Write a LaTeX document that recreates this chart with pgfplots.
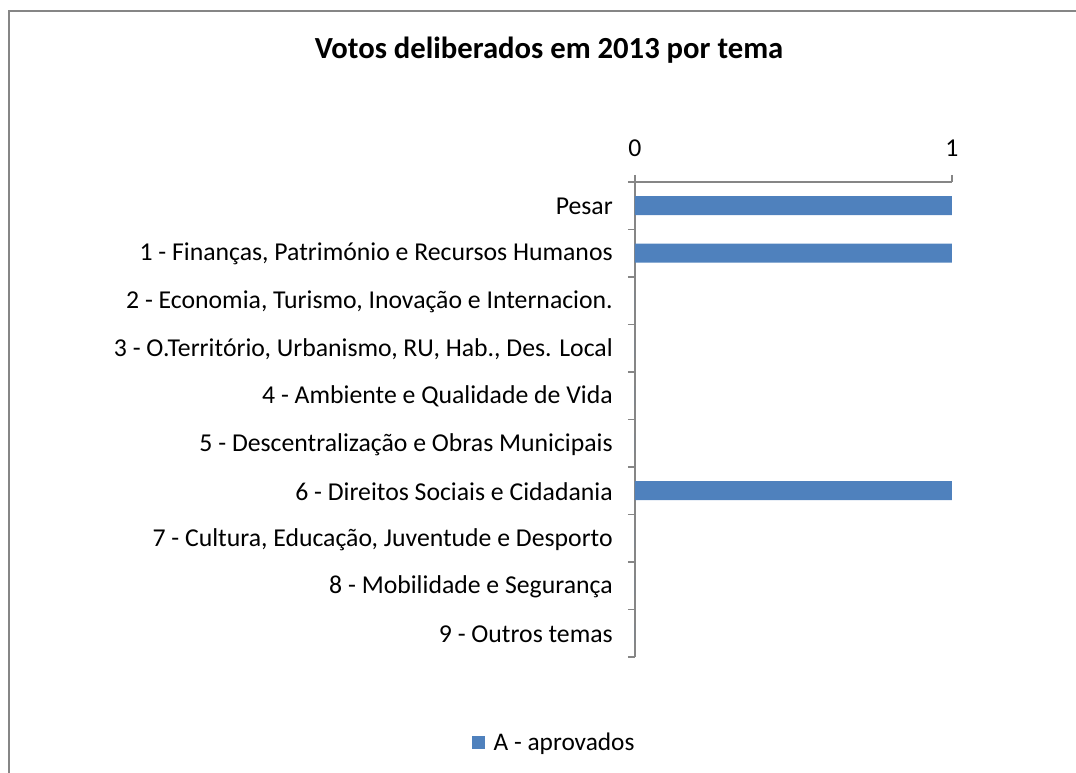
\documentclass[border=0pt]{standalone}
\usepackage{fontspec}
\setmainfont{Carlito}
\usepackage{pgfplots}
\pgfplotsset{compat=1.18}
\definecolor{barBlue}{HTML}{4F81BD}
\definecolor{axisGray}{HTML}{868686}
\begin{document}
\begin{tikzpicture}[x=0.75pt,y=0.75pt]
  \useasboundingbox (0,0) rectangle (1076,773);
  \draw[axisGray, line width=1.5pt] (9,-5) -- (9,762) -- (1080,762);
  \node[font=\bfseries\fontsize{23}{27}\selectfont] at (549,723) {Votos deliberados em 2013 por tema};
  \begin{axis}[
    at={(476.25pt,87pt)}, anchor=south west,
    scale only axis,
    width=237.75pt, height=356.25pt,
    xbar, bar width=0.4,
    xmin=0, xmax=1,
    ymin=-0.5, ymax=9.5,
    y dir=reverse,
    axis x line*=top, axis y line*=left,
    axis line style={draw=axisGray, line width=1.2pt},
    tick style={draw=axisGray, line width=1.2pt},
    tick align=outside,
    major tick length=5.25pt,
    xtick={0,1},
    xticklabel style={font=\fontsize{19.3}{22}\selectfont, inner sep=0pt, yshift=13.5pt},
    /pgf/number format/assume math mode=true,
    ytick={-0.5,0.5,...,9.5},
    yticklabels={},
    extra y ticks={0,1,2,3,4,5,6,7,8,9},
    extra y tick labels={
      {Pesar},
      {1 - Finanças, Património e Recursos Humanos},
      {2 - Economia, Turismo, Inovação e Internacion.},
      {3 - O.Território, Urbanismo, RU, Hab., Des. Local},
      {4 - Ambiente e Qualidade de Vida},
      {5 - Descentralização e Obras Municipais},
      {6 - Direitos Sociais e Cidadania},
      {7 - Cultura, Educação, Juventude e Desporto},
      {8 - Mobilidade e Segurança},
      {9 - Outros temas}},
    extra y tick style={major tick length=0pt},
    yticklabel style={font=\fontsize{19.3}{22}\selectfont, inner sep=0pt, xshift=-16.5pt, yshift=-0.75pt},
    legend style={at={(axis description cs:-0.253,-0.18)}, anchor=center, draw=none, fill=none,
      font=\fontsize{19}{22}\selectfont, inner sep=0pt},
    legend image code/.code={\fill[barBlue] (0pt,-5pt) rectangle (9.75pt,5pt); \path (14pt,0pt);},
    clip=false,
  ]
    \addplot[fill=barBlue, draw=none] coordinates {
      (1,0) (1,1) (0,2) (0,3) (0,4) (0,5) (1,6) (0,7) (0,8) (0,9)
    };
    \addlegendentry{A - aprovados}
  \end{axis}
\end{tikzpicture}
\end{document}
